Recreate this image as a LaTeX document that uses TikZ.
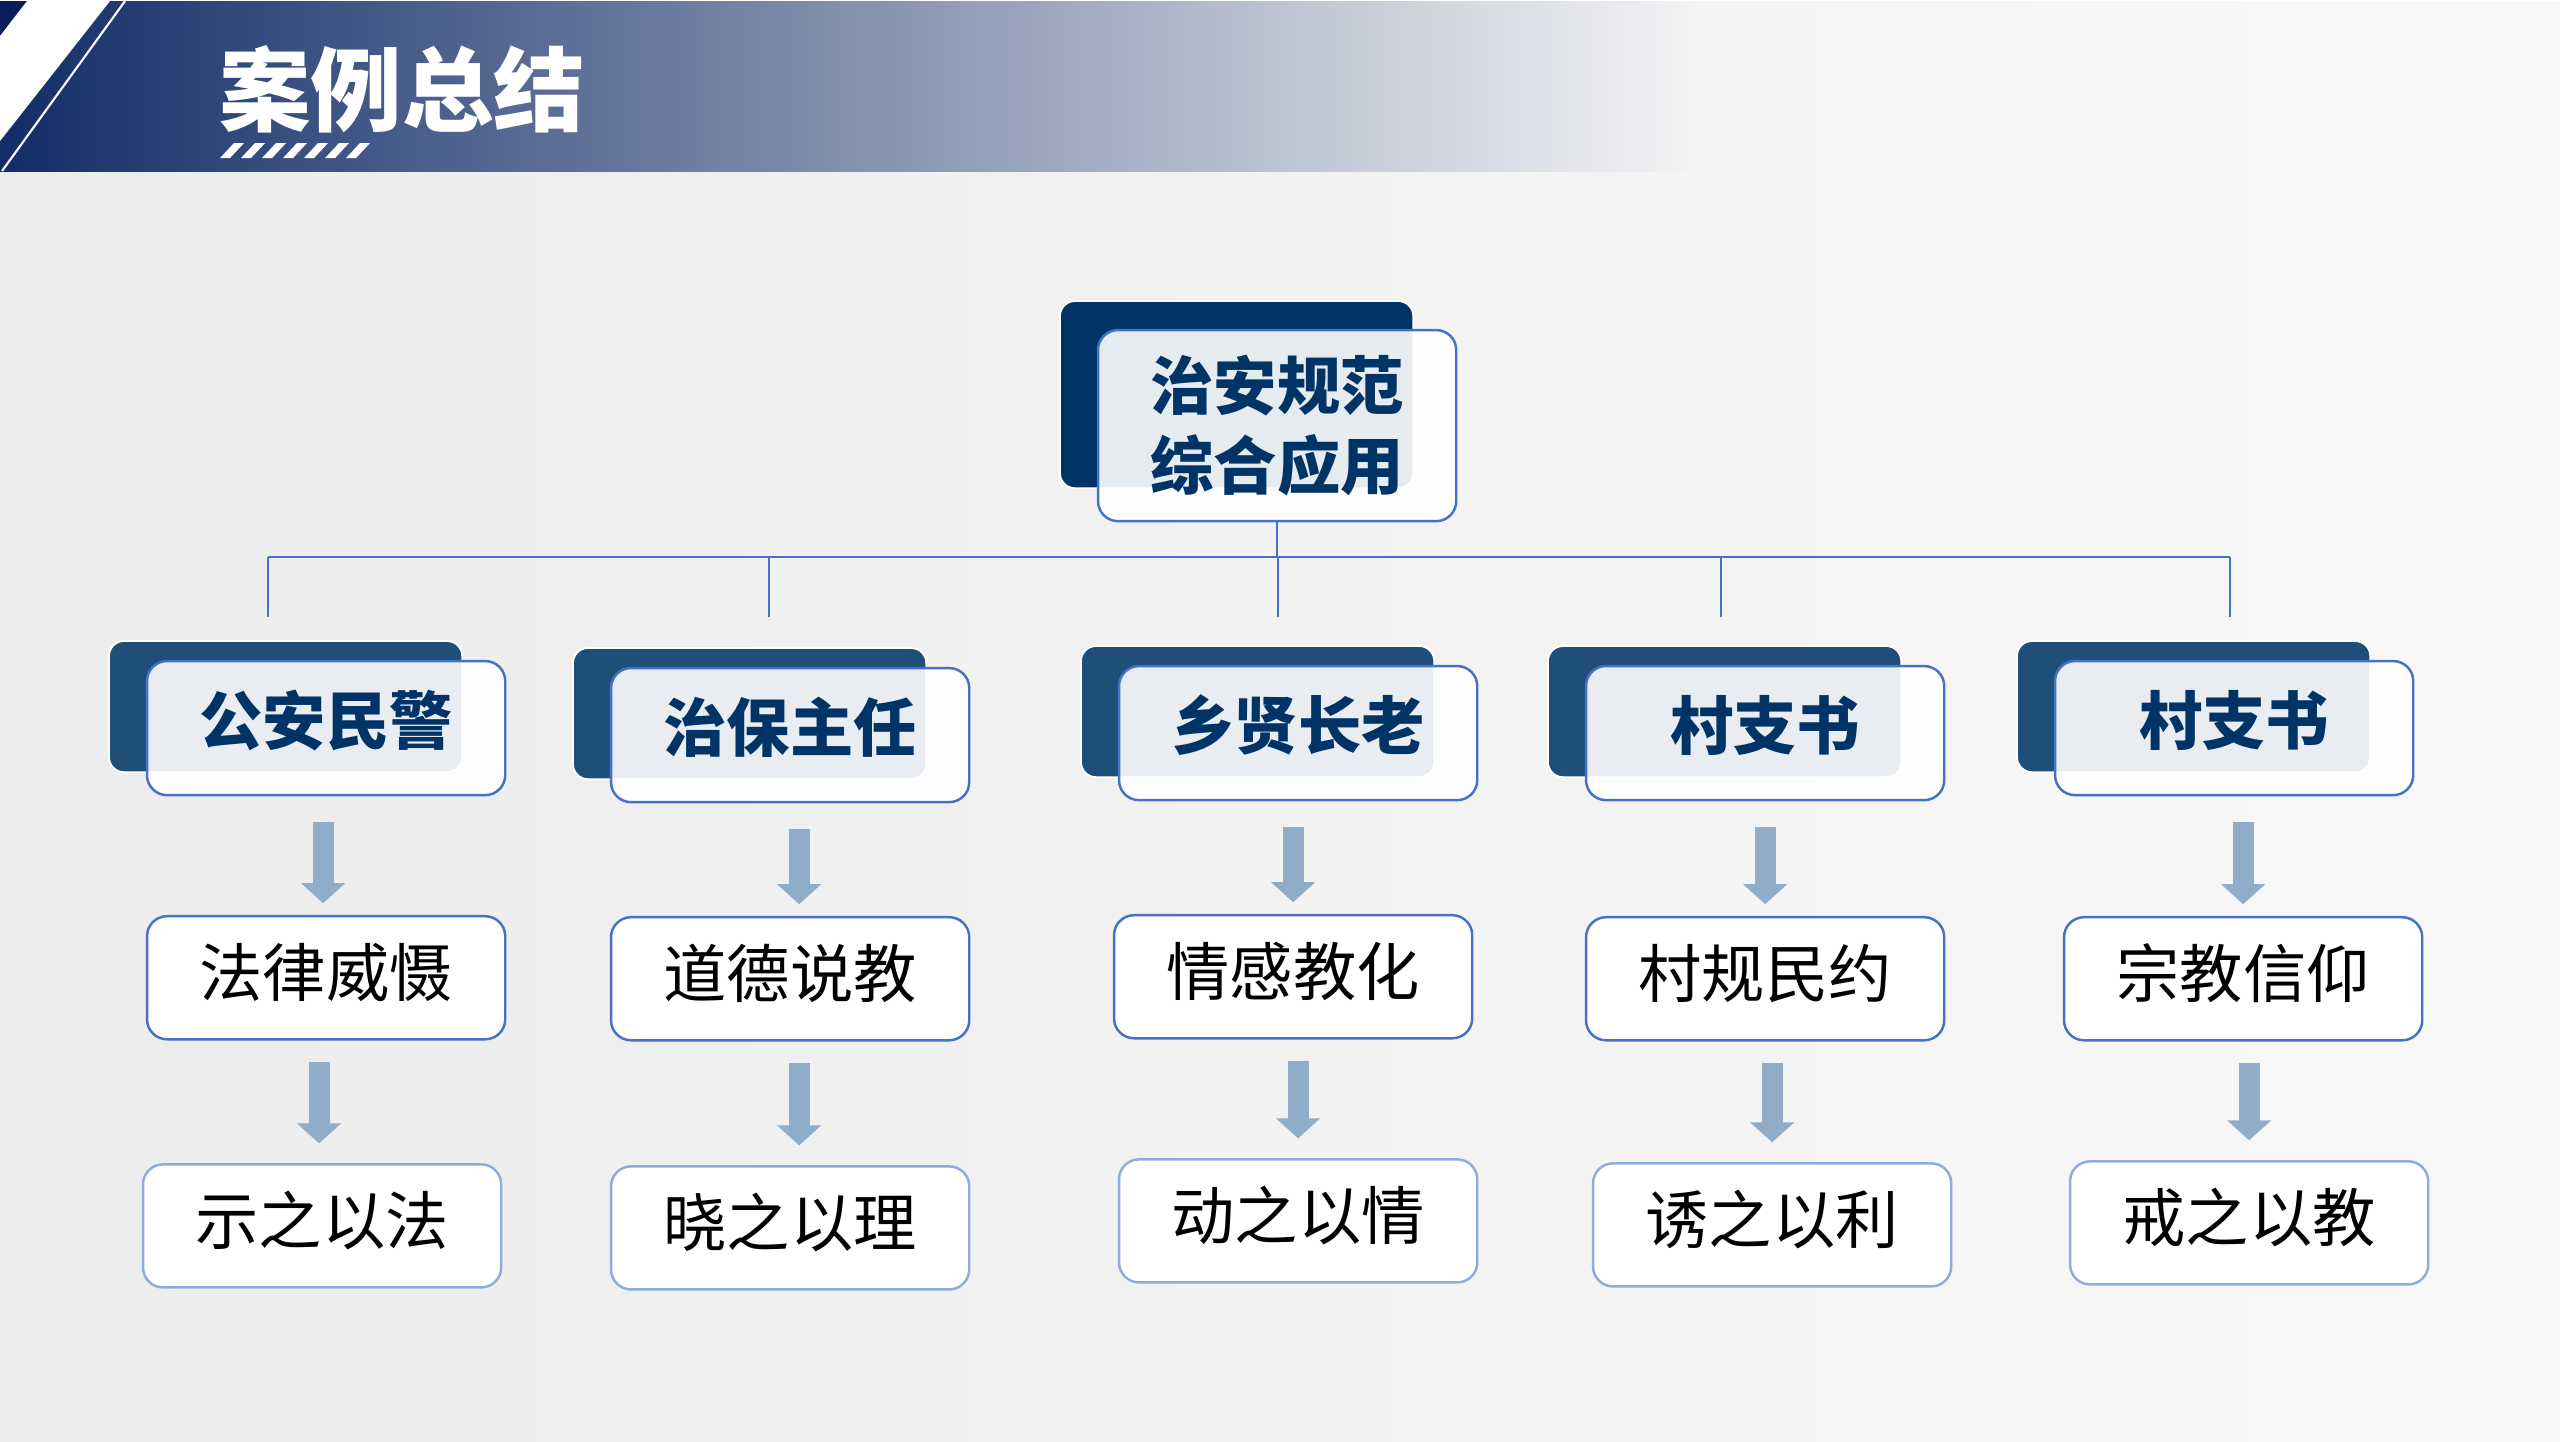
\documentclass[tikz,border=0pt]{standalone}
\usepackage{fontspec}
\newfontfamily\cjk{Noto Sans CJK SC}
\usetikzlibrary{positioning,arrows.meta,calc}
\definecolor{CaseNavy}{RGB}{0,51,102}
\definecolor{CasePlate}{RGB}{31,78,121}
\definecolor{CaseLine}{RGB}{68,114,196}
\definecolor{CaseSoft}{RGB}{143,170,220}
\definecolor{CaseArrow}{RGB}{143,172,200}
\definecolor{CaseBar}{RGB}{18,45,104}
\definecolor{CaseDeep}{RGB}{8,30,90}
\definecolor{CaseBgL}{RGB}{236,236,236}
\definecolor{CaseBgR}{RGB}{248,248,248}
\definecolor{CaseFade}{RGB}{244,244,245}

\begin{document}
\begin{tikzpicture}[x=0.01cm, y=-0.01cm, every node/.style={font=\cjk, align=center, outer sep=0pt}, plate/.style={fill=CasePlate, draw=white, line width=0.5pt, rounded corners=0.15cm, minimum width=3.53cm, minimum height=1.31cm, inner sep=0pt}, card/.style={draw=CaseLine, line width=0.7pt, fill=white, fill opacity=0.9, text opacity=1, rounded corners=0.2cm, minimum width=3.58cm, minimum height=1.34cm, inner sep=0pt, text=CaseNavy, font=\cjk\bfseries\fontsize{18}{22.8}\selectfont}, role/.style={card, text height=13pt, text depth=3.4pt}, item/.style={draw=CaseLine, line width=0.7pt, fill=white, rounded corners=0.2cm, minimum width=3.58cm, minimum height=1.23cm, inner sep=0pt, text height=13.6pt, text depth=3pt, font=\cjk\fontsize{18}{22.8}\selectfont}, result/.style={item, draw=CaseSoft}, link/.style={draw=CaseLine, line width=0.45pt}, flowarrow/.style={draw=CaseArrow, line width=0.21cm, -{Triangle[width=0.43cm,length=0.2cm]}}]
\shade[left color=CaseBgL, right color=CaseBgR] (0,0) rectangle (2560,1440);
\shade[left color=CaseBar, right color=CaseFade] (0,0) rectangle (1700,170);
\fill[CaseDeep] (0,0) -- (27,0) -- (0,35) -- cycle;
\fill[white] (27,0) -- (110,0) -- (0,140) -- (0,35) -- cycle;
\draw[white, line width=0.6pt] (125,0) -- (2,170);
\node[font=\cjk\bfseries\fontsize{26}{30}\selectfont, text=white, inner sep=0pt] (title) at (402,88) {案例总结};
\foreach \k in {0,...,6}
  \fill[white] (220+21*\k,157) -- (230+21*\k,157) -- (244+21*\k,142) -- (234+21*\k,142) -- cycle;

\node[plate, fill=CaseNavy, anchor=north west, minimum height=1.87cm] (p0) at (1060,300) {};
\node[card, below right=0.29cm and 0.38cm of p0.north west, minimum height=1.91cm] (top) {治安规范\\综合应用};

\node[plate, anchor=north west] (p1) at (109,640) {};
\node[plate, anchor=north west] (p2) at (573,647) {};
\node[plate, anchor=north west] (p3) at (1081,645) {};
\node[plate, anchor=north west] (p4) at (1548,645) {};
\node[plate, anchor=north west] (p5) at (2017,640) {};
\node[role, below right=0.2cm and 0.38cm of p1.north west] (c1) {公安民警};
\node[role, below right=0.2cm and 0.38cm of p2.north west] (c2) {治保主任};
\node[role, below right=0.2cm and 0.38cm of p3.north west] (c3) {乡贤长老};
\node[role, below right=0.2cm and 0.38cm of p4.north west] (c4) {村支书};
\node[role, below right=0.2cm and 0.38cm of p5.north west] (c5) {村支书};

\node[item, below=1.21cm of c1] (f1) {法律威慑};
\node[item, below=1.15cm of c2] (f2) {道德说教};
\node[item, below=1.15cm of c3, xshift=-0.05cm] (f3) {情感教化};
\node[item, below=1.17cm of c4] (f4) {村规民约};
\node[item, below=1.22cm of c5, xshift=0.09cm] (f5) {宗教信仰};
\node[result, below=1.25cm of f1, xshift=-0.04cm] (s1) {示之以法};
\node[result, below=1.26cm of f2] (s2) {晓之以理};
\node[result, below=1.21cm of f3, xshift=0.05cm] (s3) {动之以情};
\node[result, below=1.23cm of f4, xshift=0.07cm] (s4) {诱之以利};
\node[result, below=1.21cm of f5, xshift=0.06cm] (s5) {戒之以教};

\coordinate (bus) at (1278,556);
\coordinate (t1) at (268,616);
\coordinate (t2) at (769,616);
\coordinate (t3) at (1278,616);
\coordinate (t4) at (1721,616);
\coordinate (t5) at (2230,616);
\draw[link] (top.south) -- (top.south |- bus);
\draw[link] (t1 |- bus) -- (t5 |- bus);
\foreach \i/\dx in {1/-3,2/9,3/0,4/0,5/0} {
  \draw[link] (t\i |- bus) -- (t\i);
  \draw[flowarrow] ($(f\i.north |- c\i.south)+(\dx,27)$) -- ($(f\i.north)+(\dx,-13)$);
  \draw[flowarrow] ($(s\i.north |- f\i.south)+(\dx,23)$) -- ($(s\i.north)+(\dx,-21)$);
}
\end{tikzpicture}
\end{document}
